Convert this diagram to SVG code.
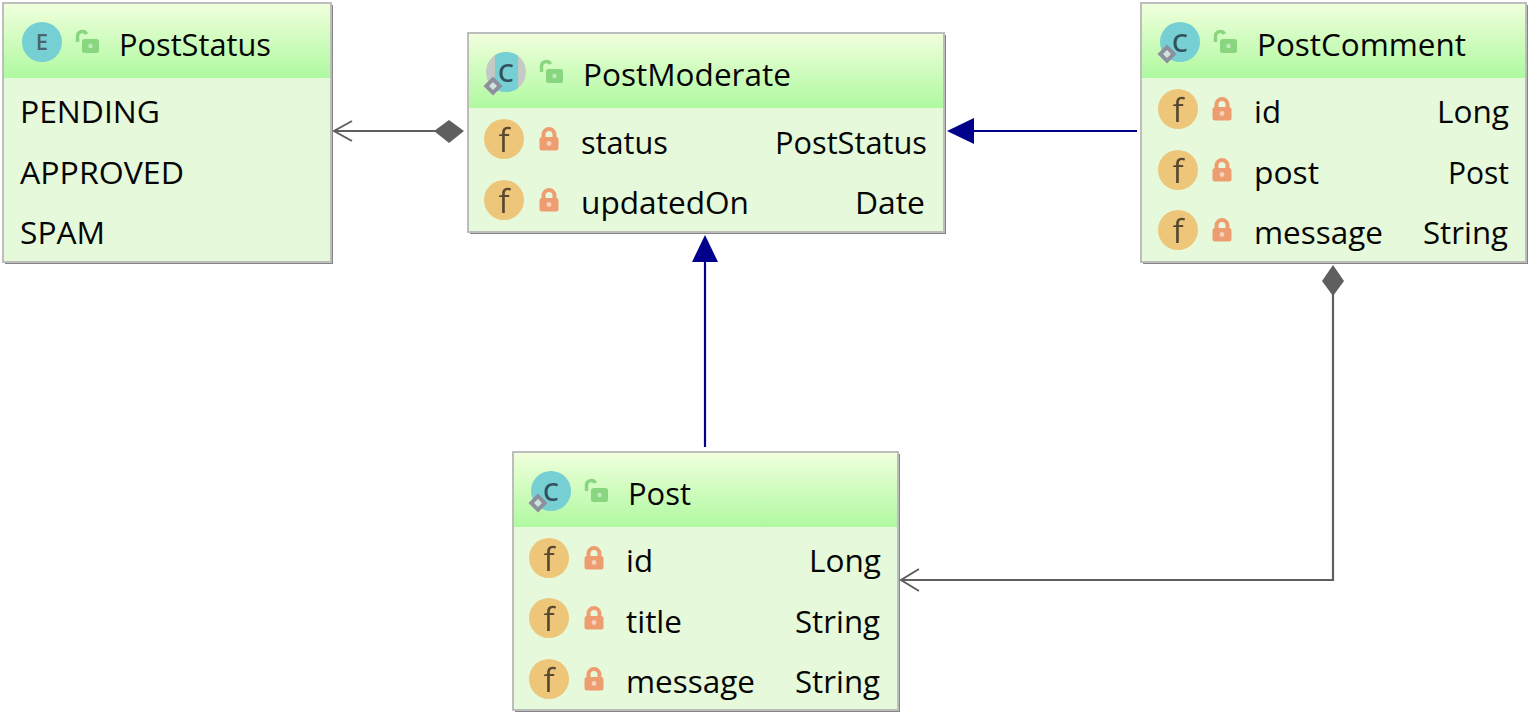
<svg xmlns="http://www.w3.org/2000/svg" width="1530" height="712" viewBox="0 0 1530 712">
<style>
text{font-family:"Open Sans","Noto Sans","Liberation Sans",sans-serif;font-size:31px;fill:#050505;transform:translateY(.6px)}
.box{fill:#e6f9da;stroke:#bdbdbd;stroke-width:2}
.shadow{fill:#858585}
.end{text-anchor:end}
.il{font-family:"Open Sans",sans-serif;font-weight:600;fill:#35505c;text-anchor:middle;font-size:25px;transform:none}
.fl{font-family:"Open Sans",sans-serif;fill:#5a4a30;text-anchor:middle;font-size:33px;transform:none}
.gen{fill:none;stroke:#00008b;stroke-width:2.200}
.dep{fill:none;stroke:#5f5f5f;stroke-width:2.200}
.open{fill:none;stroke:#5f5f5f;stroke-width:2}
.icon{filter:url(#soft)}
</style>
<defs>
<filter id="soft" x="-10%" y="-10%" width="120%" height="120%"><feGaussianBlur stdDeviation="0.6"/></filter>
<linearGradient id="hd" x1="0" y1="0" x2="0" y2="1"><stop offset="0" stop-color="#f0ffdc"/><stop offset="1" stop-color="#aff9a0"/></linearGradient>
<clipPath id="modClip"><circle cx="506" cy="72" r="20"/></clipPath>
<g id="field"><circle cx="0" cy="0" r="20" fill="#edc67a"/><text class="fl" x="0" y="13">f</text></g>
<g id="priv"><path d="M-5.500 0v-4.500a5.500 5.500 0 0 1 11 0v4.500" fill="none" stroke="#ee9d70" stroke-width="4"/><rect x="-9.500" y="-2" width="19" height="13.500" rx="2.500" fill="#ee9d70"/><circle cx="0" cy="4.500" r="2.400" fill="#f6d3bb"/></g>
<g id="pub"><path d="M-9.500 0v-6a4.800 4.800 0 0 1 9-2" fill="none" stroke="#8ad680" stroke-width="3.500"/><rect x="-5" y="-3" width="17" height="14" rx="2.500" fill="#8ad680"/><circle cx="3.500" cy="4" r="2.200" fill="#c0ecb8"/></g>
<g id="cls"><circle cx="0" cy="0" r="20" fill="#74cfd3"/><text class="il" x="0" y="10">C</text><path d="M-13 2.500l9.500 9.500-9.500 9.500-9.500-9.500z" fill="#8d8f9e"/><path d="M-13 8l4 4-4 4-4-4z" fill="#cfe3da"/></g>
</defs>

<g id="connectors">
<path class="dep" d="M334 131H440"/>
<path class="open" d="M352 121L334 131L352 141"/>
<path d="M434 131L449 120L464 131L449 143Z" fill="#5f5f5f"/>
<path class="gen" d="M1137 131H970"/>
<path d="M947 131L974 118V144Z" fill="#00008b"/>
<path class="gen" d="M705 447V258"/>
<path d="M705 235L692 262H718Z" fill="#00008b"/>
<path class="dep" d="M1333 290V580H902"/>
<path class="open" d="M919 569L901 580L919 591"/>
<path d="M1333 265L1344 281L1333 296L1322 281Z" fill="#5f5f5f"/>
</g>

<g id="PostStatus">
<rect class="shadow" x="5" y="5" width="328" height="259"/>
<rect class="box" x="3" y="3" width="328" height="259"/>
<rect x="4" y="4" width="326" height="74" fill="url(#hd)"/>
<g class="icon"><circle cx="42" cy="42" r="20" fill="#74cfd3"/><text class="il" x="42" y="50" style="font-size:22px;fill:#4a6670">E</text></g>
<use class="icon" href="#pub" x="87" y="42"/>
<text x="119" y="55" textLength="152" lengthAdjust="spacingAndGlyphs">PostStatus</text>
<text x="20" y="122" textLength="140" lengthAdjust="spacingAndGlyphs">PENDING</text>
<text x="20" y="183" textLength="164" lengthAdjust="spacingAndGlyphs">APPROVED</text>
<text x="20" y="243" textLength="85" lengthAdjust="spacingAndGlyphs">SPAM</text>
</g>

<g id="PostModerate">
<rect class="shadow" x="470" y="35" width="476" height="199"/>
<rect class="box" x="468" y="33" width="476" height="199"/>
<rect x="469" y="34" width="474" height="74" fill="url(#hd)"/>
<g class="icon">
<circle cx="506" cy="72" r="20" fill="#c3c9c5"/><rect x="495" y="50" width="23" height="44" fill="#74cfd3" clip-path="url(#modClip)"/>
<text class="il" x="506" y="82">C</text><path d="M493 76.500l9.500 9.500-9.500 9.500-9.500-9.500z" fill="#8d8f9e"/><path d="M493 82l4 4-4 4-4-4z" fill="#cfe3da"/>
</g>
<use class="icon" href="#pub" x="551" y="72"/>
<text x="583" y="85" textLength="208" lengthAdjust="spacingAndGlyphs">PostModerate</text>
<use class="icon" href="#field" x="504" y="139"/><use class="icon" href="#priv" x="549" y="139"/>
<text x="581" y="153" textLength="87" lengthAdjust="spacingAndGlyphs">status</text><text class="end" x="927" y="153" textLength="152" lengthAdjust="spacingAndGlyphs">PostStatus</text>
<use class="icon" href="#field" x="504" y="200"/><use class="icon" href="#priv" x="549" y="200"/>
<text x="581" y="213" textLength="168" lengthAdjust="spacingAndGlyphs">updatedOn</text><text class="end" x="925" y="213" textLength="70" lengthAdjust="spacingAndGlyphs">Date</text>
</g>

<g id="PostComment">
<rect class="shadow" x="1143" y="5" width="385" height="259"/>
<rect class="box" x="1141" y="3" width="385" height="259"/>
<rect x="1142" y="4" width="383" height="74" fill="url(#hd)"/>
<use class="icon" href="#cls" x="1180" y="42"/>
<use class="icon" href="#pub" x="1225" y="42"/>
<text x="1257" y="55" textLength="209" lengthAdjust="spacingAndGlyphs">PostComment</text>
<use class="icon" href="#field" x="1178" y="109"/><use class="icon" href="#priv" x="1222" y="109"/>
<text x="1254" y="122" textLength="27" lengthAdjust="spacingAndGlyphs">id</text><text class="end" x="1509" y="122" textLength="72" lengthAdjust="spacingAndGlyphs">Long</text>
<use class="icon" href="#field" x="1178" y="170"/><use class="icon" href="#priv" x="1222" y="170"/>
<text x="1254" y="183" textLength="65" lengthAdjust="spacingAndGlyphs">post</text><text class="end" x="1509" y="183" textLength="61" lengthAdjust="spacingAndGlyphs">Post</text>
<use class="icon" href="#field" x="1178" y="230"/><use class="icon" href="#priv" x="1222" y="230"/>
<text x="1254" y="243" textLength="129" lengthAdjust="spacingAndGlyphs">message</text><text class="end" x="1508" y="243" textLength="85" lengthAdjust="spacingAndGlyphs">String</text>
</g>

<g id="Post">
<rect class="shadow" x="515" y="454" width="385" height="258"/>
<rect class="box" x="513" y="452" width="385" height="258"/>
<rect x="514" y="453" width="383" height="74" fill="url(#hd)"/>
<use class="icon" href="#cls" x="551" y="491"/>
<use class="icon" href="#pub" x="596" y="491"/>
<text x="628" y="504" textLength="63" lengthAdjust="spacingAndGlyphs">Post</text>
<use class="icon" href="#field" x="549" y="558"/><use class="icon" href="#priv" x="594" y="558"/>
<text x="626" y="571" textLength="27" lengthAdjust="spacingAndGlyphs">id</text><text class="end" x="881" y="571" textLength="72" lengthAdjust="spacingAndGlyphs">Long</text>
<use class="icon" href="#field" x="549" y="618"/><use class="icon" href="#priv" x="594" y="618"/>
<text x="626" y="632" textLength="56" lengthAdjust="spacingAndGlyphs">title</text><text class="end" x="880" y="632" textLength="85" lengthAdjust="spacingAndGlyphs">String</text>
<use class="icon" href="#field" x="549" y="679"/><use class="icon" href="#priv" x="594" y="679"/>
<text x="626" y="692" textLength="129" lengthAdjust="spacingAndGlyphs">message</text><text class="end" x="880" y="692" textLength="85" lengthAdjust="spacingAndGlyphs">String</text>
</g>
</svg>
